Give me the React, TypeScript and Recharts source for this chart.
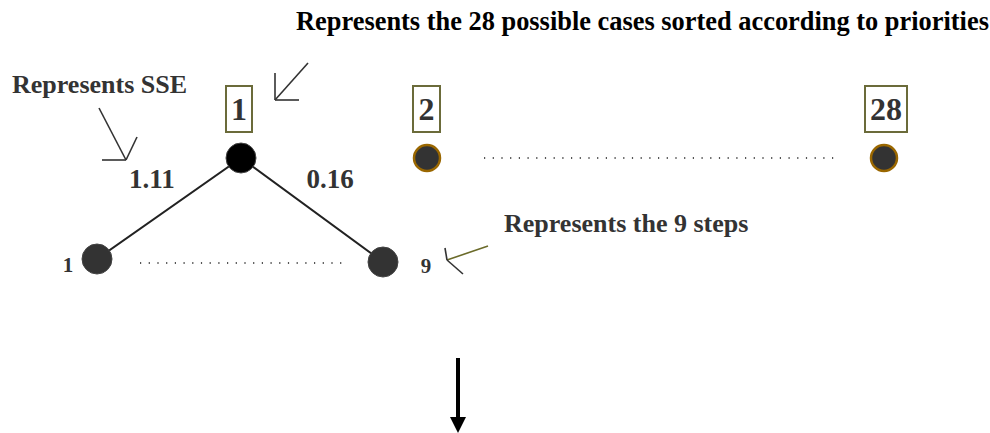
import { ScatterChart, Scatter, XAxis, YAxis, ReferenceLine } from "recharts";

const FONT = '"Liberation Serif", "Times New Roman", serif';

// the 9 steps of case 1 (bottom row) and the case-1 node at the top
const stepNodes = [
    { x: 97, y: 259, fill: "#333333", r: 15 },
    { x: 241, y: 158, fill: "#000000", r: 15 },
    { x: 383, y: 262, fill: "#333333", r: 15 },
];

// the other sorted cases
const caseNodes = [
    { x: 427, y: 158 },
    { x: 884, y: 158 },
];

// boxed case numbers
const caseBoxes = [
    { x: 239, y: 109, w: 26, label: "1" },
    { x: 426.5, y: 109, w: 27, label: "2" },
    { x: 886, y: 109, w: 42, label: "28" },
];

const texts = [
    { x: 296, y: 30, text: "Represents the 28 possible cases sorted according to priorities", size: 26.4, anchor: "start", color: "#000" },
    { x: 12, y: 93, text: "Represents SSE", size: 26, anchor: "start", color: "#333" },
    { x: 504, y: 232, text: "Represents the 9 steps", size: 26, anchor: "start", color: "#333" },
    { x: 152, y: 188, text: "1.11", size: 27, anchor: "middle", color: "#333" },
    { x: 330, y: 188, text: "0.16", size: 27, anchor: "middle", color: "#333" },
    { x: 68, y: 272, text: "1", size: 21, anchor: "middle", color: "#333" },
    { x: 426, y: 273, text: "9", size: 21, anchor: "middle", color: "#333" },
];

const dotted = [
    [{ x: 140, y: 263 }, { x: 343, y: 263 }],
    [{ x: 484, y: 158 }, { x: 836, y: 158 }],
];

const pointers = [
    { seg: [{ x: 99, y: 108 }, { x: 126, y: 160 }], color: "#333" },
    { seg: [{ x: 102, y: 160 }, { x: 126, y: 160 }], color: "#333" },
    { seg: [{ x: 137, y: 137 }, { x: 126, y: 160 }], color: "#333" },
    { seg: [{ x: 308, y: 63 }, { x: 275, y: 100 }], color: "#333" },
    { seg: [{ x: 299, y: 100 }, { x: 275, y: 100 }], color: "#333" },
    { seg: [{ x: 275, y: 73 }, { x: 275, y: 100 }], color: "#333" },
    { seg: [{ x: 488, y: 246 }, { x: 447, y: 260 }], color: "#6b6b2a" },
    { seg: [{ x: 445, y: 248 }, { x: 447, y: 260 }], color: "#333" },
    { seg: [{ x: 463, y: 274 }, { x: 447, y: 260 }], color: "#333" },
];

const downArrow = [{ x: 458, y: 358 }, { x: 458, y: 419 }];
const arrowHead = [{ x: 458, y: 425 }];

const StepDot = (p: any) => (
    <circle cx={p.cx} cy={p.cy} r={p.payload.r} fill={p.payload.fill} stroke="#444" strokeWidth={1} />
);

const CaseDot = (p: any) => (
    <circle cx={p.cx} cy={p.cy} r={13} fill="#333" stroke="#9a6700" strokeWidth={2.5} />
);

const CaseBox = (p: any) => (
    <g>
        <rect x={p.cx - p.payload.w / 2} y={p.cy - 23} width={p.payload.w} height={46} fill="#fff" stroke="#6b6b3a" strokeWidth={2} />
        <text x={p.cx} y={p.cy + 11} textAnchor="middle" fontFamily={FONT} fontWeight="bold" fontSize={32} fill="#333">
            {p.payload.label}
        </text>
    </g>
);

const Label = (p: any) => (
    <text x={p.cx} y={p.cy} textAnchor={p.payload.anchor} fontFamily={FONT} fontWeight="bold" fontSize={p.payload.size} fill={p.payload.color}>
        {p.payload.text}
    </text>
);

const Head = (p: any) => (
    <polygon points={`${p.cx - 8},${p.cy - 8} ${p.cx + 8},${p.cy - 8} ${p.cx},${p.cy + 8}`} fill="#000" />
);

export default function App() {
    return (
        <div style={{ position: "absolute", left: 0, top: 0, width: 990, height: 433, background: "#fff" }}>
            <ScatterChart width={990} height={433} margin={{ top: 0, right: 0, bottom: 0, left: 0 }}>
                <XAxis type="number" dataKey="x" domain={[0, 990]} hide />
                <YAxis type="number" dataKey="y" domain={[0, 433]} reversed hide />
                {dotted.map((s, i) => (
                    <ReferenceLine key={"d" + i} segment={s} stroke="#555" strokeWidth={2} strokeDasharray="1.2 7.5" />
                ))}
                {pointers.map((p, i) => (
                    <ReferenceLine key={"p" + i} segment={p.seg} stroke={p.color} strokeWidth={1.6} />
                ))}
                <ReferenceLine segment={downArrow} stroke="#000" strokeWidth={4} />
                <Scatter data={stepNodes} line={{ stroke: "#222", strokeWidth: 2 }} shape={StepDot} isAnimationActive={false} />
                <Scatter data={caseNodes} shape={CaseDot} isAnimationActive={false} />
                <Scatter data={caseBoxes} shape={CaseBox} isAnimationActive={false} />
                <Scatter data={texts} shape={Label} isAnimationActive={false} />
                <Scatter data={arrowHead} shape={Head} isAnimationActive={false} />
            </ScatterChart>
        </div>
    );
}
